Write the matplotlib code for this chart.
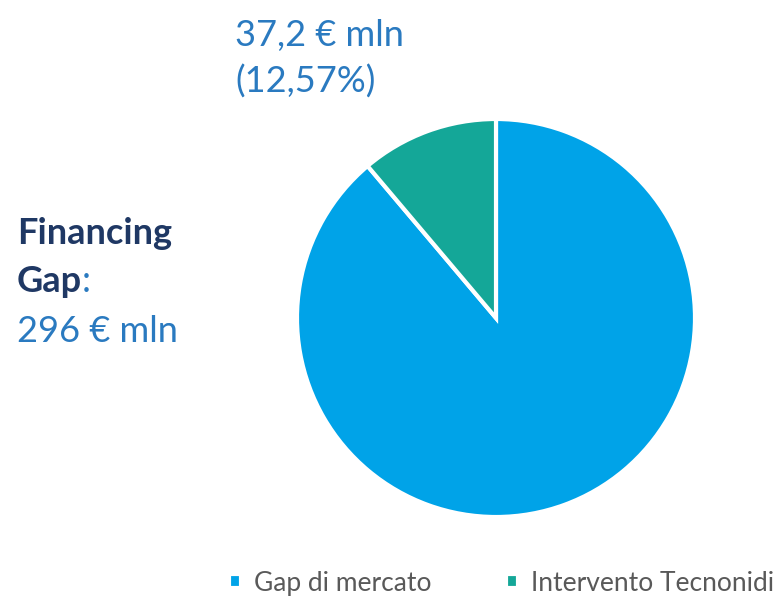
import matplotlib.pyplot as plt

# Data
labels = ["Gap di mercato", "Intervento Tecnonidi"]
values = [296, 37.2]
colors = ["#00A3E8", "#14A798"]

plt.rcParams['font.family'] = ['Lato', 'DejaVu Sans']

W, H = 780, 600
fig = plt.figure(figsize=(W / 100, H / 100), dpi=100)

# pie centre about (496, 318) px, radius about 199 px
cx, cy, r = 496, 318, 199
ax = fig.add_axes([(cx - r) / W, (H - cy - r) / H, 2 * r / W, 2 * r / H])
wedges, _ = ax.pie(values, colors=colors, startangle=90, counterclock=False,
                   radius=1, wedgeprops=dict(edgecolor="white", linewidth=3))
ax.set_xlim(-1, 1)
ax.set_ylim(-1, 1)
ax.set_aspect("equal")
ax.axis("off")

navy = "#1F3864"
blue = "#2A7AC0"
fs = 26

def px(x, y):
    return x / W, 1 - y / H

# label for the small slice
fig.text(*px(235, 46), "37,2 € mln", color=blue, fontsize=fs, va="baseline")
fig.text(*px(235, 93), "(12,57%)", color=blue, fontsize=fs, va="baseline")

# left side label
fig.text(*px(17, 244), "Financing", color=navy, fontsize=fs,
         fontweight="bold", va="baseline")
t = fig.text(*px(17, 292), "Gap", color=navy, fontsize=fs,
             fontweight="bold", va="baseline")
ax.annotate(":", xy=(1, 0), xycoords=t, color=blue, fontsize=fs,
            va="bottom", ha="left")
fig.text(*px(17, 342), "296 € mln", color=blue, fontsize=fs, va="baseline")

fig.legend(wedges, labels, loc="center", bbox_to_anchor=(0.643, 0.028),
           ncol=2, frameon=False, fontsize=19, labelcolor="#595959",
           handlelength=0.45, handleheight=0.45, handletextpad=0.5,
           columnspacing=2.8)

fig.savefig("out.png", dpi=100)
